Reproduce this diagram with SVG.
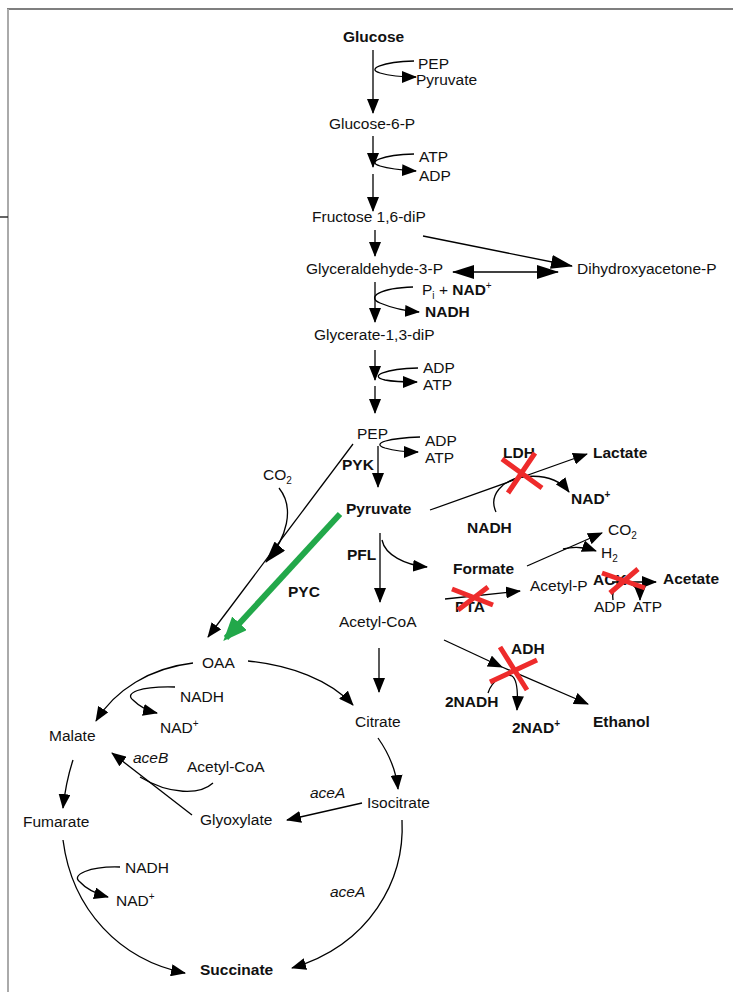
<svg xmlns="http://www.w3.org/2000/svg" width="733" height="992" viewBox="0 0 733 992">
<style>
text{font-family:"Liberation Sans",Arial,sans-serif;font-size:15.5px;fill:#111}
.b{font-weight:bold}
.i{font-style:italic}
.ln{fill:none;stroke:#000;stroke-width:1.3}
.ar{fill:none;stroke:#000;stroke-width:1.3;marker-end:url(#ah)}
.x{stroke:#ee2b2b;stroke-width:5;fill:none}
.sup{font-size:10px}
</style>
<defs>
<marker id="ah" markerUnits="userSpaceOnUse" markerWidth="15" markerHeight="12" refX="14" refY="6" orient="auto-start-reverse"><path d="M0,0 L15,6 L0,12 z" fill="#000"/></marker>
<marker id="ahb" markerUnits="userSpaceOnUse" markerWidth="22" markerHeight="14" refX="21" refY="7" orient="auto-start-reverse"><path d="M0,0 L22,7 L0,14 z" fill="#000"/></marker>
<marker id="ahg" markerUnits="userSpaceOnUse" markerWidth="24" markerHeight="20" refX="20" refY="10" orient="auto"><path d="M0,0 L24,10 L0,20 z" fill="#22a84a"/></marker>
</defs>
<g id="frame">
<path d="M7,9 L733,9" stroke="#555" stroke-width="1.6"/>
<path d="M8,9 L8,992" stroke="#aaa" stroke-width="2"/>
<path d="M0,217 L8,217" stroke="#222" stroke-width="1.4"/>
</g>
<g id="connectors">
<path class="ar" d="M373,50 L373,113"/>
<path class="ar" d="M414,61 C382,62 366,69 380,73 C390,76 400,77 416,77"/>
<path class="ar" d="M373,136 L373,167"/>
<path class="ar" d="M414,154 C382,155 366,162 380,166 C390,169 400,170 416,171"/>
<path class="ar" d="M373,174 L373,211"/>
<path class="ar" d="M375,230 L375,256"/>
<path class="ln" d="M423,236 L572,266" marker-end="url(#ahb)"/>
<path class="ln" d="M453,272 L558,272" marker-start="url(#ahb)" marker-end="url(#ahb)"/>
<path class="ar" d="M375,282 L375,322"/>
<path class="ar" d="M413,287 C380,288 366,297 380,303 C392,308 405,311 419,312"/>
<path class="ar" d="M375,350 L375,380"/>
<path class="ar" d="M418,368 C385,369 368,376 385,380 C395,382 405,382 417,382"/>
<path class="ar" d="M375,386 L375,413"/>
<path class="ar" d="M378,446 L378,487"/>
<path class="ar" d="M420,437 C390,438 370,443 385,448 C395,451 405,452 418,452"/>
<path class="ln" d="M353,444 L208,637" marker-end="url(#ah)" stroke-width="1"/>
<path class="ln" d="M279,488 C295,508 287,538 266,562" marker-end="url(#ahb)"/>
<path d="M340,514 L226,638" stroke="#22a84a" stroke-width="6" fill="none" marker-end="url(#ahg)"/>
<path class="ar" d="M430,510 L587,454"/>
<path class="ar" d="M496,512 C488,495 503,480 522,477 C545,474 560,480 569,492"/>
<path class="ar" d="M380,533 L380,602"/>
<path class="ar" d="M382,540 C385,555 405,565 427,567"/>
<path class="ar" d="M527,566 L602,533"/>
<path class="ar" d="M563,549 C575,546 585,547 596,551"/>
<path class="ar" d="M445,599 L520,591"/>
<path class="ar" d="M612,582 L656,582"/>
<path class="ar" d="M613,600 C611,589 619,582 628,583 C636,585 640,592 640,600"/>
<path class="ar" d="M444,640 L502,667"/>
<path class="ar" d="M502,667 L588,704"/>
<path class="ar" d="M488,693 C492,680 505,673 512,676 C518,680 518,695 517,710"/>
<path class="ar" d="M379,648 L379,692"/>
<path class="ar" d="M193,663 C150,668 115,690 96,721"/>
<path class="ar" d="M175,687 C140,686 124,693 133,700 C140,707 148,711 157,713"/>
<path class="ar" d="M248,661 C290,665 330,680 353,705"/>
<path class="ar" d="M378,738 C390,755 396,770 398,789"/>
<path class="ar" d="M362,803 L287,820"/>
<path class="ar" d="M192,815 L112,753"/>
<path class="ln" d="M213,783 C200,795 170,795 140,777"/>
<path class="ar" d="M73,760 C68,775 65,790 63,808"/>
<path class="ar" d="M63,840 C72,910 120,960 185,973"/>
<path class="ar" d="M120,867 C90,866 70,875 80,882 C87,890 97,894 108,897"/>
<path class="ar" d="M402,820 C405,880 370,945 292,968"/>
</g>
<g id="glucose"><text x="343" y="42" class="b">Glucose</text></g>
<g id="pep-pyr1"><text x="418" y="69">PEP</text><text x="416" y="85">Pyruvate</text></g>
<g id="g6p"><text x="329" y="129">Glucose-6-P</text></g>
<g id="atp-adp1"><text x="419" y="162">ATP</text><text x="419" y="181">ADP</text></g>
<g id="f16p"><text x="312" y="222">Fructose 1,6-diP</text></g>
<g id="gap"><text x="306" y="274">Glyceraldehyde-3-P</text></g>
<g id="dhap"><text x="577" y="274">Dihydroxyacetone-P</text></g>
<g id="pi-nad"><text x="422" y="295">P<tspan class="sup" dy="4">i</tspan><tspan dy="-4"> + </tspan><tspan class="b">NAD</tspan><tspan class="sup" dy="-6">+</tspan></text><text x="425" y="317" class="b">NADH</text></g>
<g id="g13p"><text x="314" y="340">Glycerate-1,3-diP</text></g>
<g id="adp-atp2"><text x="423" y="373">ADP</text><text x="423" y="390">ATP</text></g>
<g id="pep"><text x="357" y="439">PEP</text></g>
<g id="adp-atp3"><text x="425" y="446">ADP</text><text x="425" y="463">ATP</text></g>
<g id="pyk"><text x="342" y="470" class="b">PYK</text></g>
<g id="pyruvate"><text x="346" y="514" class="b">Pyruvate</text></g>
<g id="co2a"><text x="263" y="480">CO<tspan class="sup" dy="4">2</tspan></text></g>
<g id="ldh"><text x="503" y="458" class="b">LDH</text><path class="x" d="M502,459 L542,488 M535,453 L508,493"/></g>
<g id="lactate"><text x="593" y="458" class="b">Lactate</text></g>
<g id="nad-ldh"><text x="571" y="504" class="b">NAD<tspan class="sup" dy="-6">+</tspan></text><text x="467" y="533" class="b">NADH</text></g>
<g id="co2b"><text x="608" y="535">CO<tspan class="sup" dy="4">2</tspan></text></g>
<g id="h2"><text x="601" y="558">H<tspan class="sup" dy="4">2</tspan></text></g>
<g id="pfl"><text x="347" y="560" class="b">PFL</text></g>
<g id="formate"><text x="453" y="574" class="b">Formate</text></g>
<g id="acetylp"><text x="530" y="591">Acetyl-P</text></g>
<g id="ack"><text x="593" y="585" class="b">ACK</text><path class="x" d="M602,573 L645,588 M638,569 L610,593"/></g>
<g id="acetate"><text x="663" y="584" class="b">Acetate</text></g>
<g id="pta"><text x="455" y="612" class="b">PTA</text><path class="x" d="M452,589 L493,605 M488,587 L458,610"/></g>
<g id="adp-atp4"><text x="594" y="612">ADP</text><text x="633" y="612">ATP</text></g>
<g id="pyc"><text x="288" y="597" class="b">PYC</text></g>
<g id="acetylcoa"><text x="339" y="627">Acetyl-CoA</text></g>
<g id="adh"><text x="511" y="654" class="b">ADH</text><path class="x" d="M500,647 L527,690 M537,660 L490,682"/></g>
<g id="nadh2"><text x="445" y="707" class="b">2NADH</text><text x="512" y="733" class="b">2NAD<tspan class="sup" dy="-6">+</tspan></text></g>
<g id="ethanol"><text x="593" y="727" class="b">Ethanol</text></g>
<g id="oaa"><text x="202" y="668">OAA</text></g>
<g id="nadh-mdh"><text x="180" y="702">NADH</text><text x="160" y="733">NAD<tspan class="sup" dy="-6">+</tspan></text></g>
<g id="citrate"><text x="355" y="727">Citrate</text></g>
<g id="malate"><text x="49" y="741">Malate</text></g>
<g id="aceb"><text x="133" y="763" class="i">aceB</text></g>
<g id="acetylcoa2"><text x="187" y="772">Acetyl-CoA</text></g>
<g id="acea1"><text x="310" y="798" class="i">aceA</text></g>
<g id="isocitrate"><text x="367" y="808">Isocitrate</text></g>
<g id="glyoxylate"><text x="200" y="825">Glyoxylate</text></g>
<g id="fumarate"><text x="23" y="827">Fumarate</text></g>
<g id="nadh-frd"><text x="125" y="873">NADH</text><text x="116" y="906">NAD<tspan class="sup" dy="-6">+</tspan></text></g>
<g id="acea2"><text x="330" y="897" class="i">aceA</text></g>
<g id="succinate"><text x="200" y="975" class="b">Succinate</text></g>
</svg>
